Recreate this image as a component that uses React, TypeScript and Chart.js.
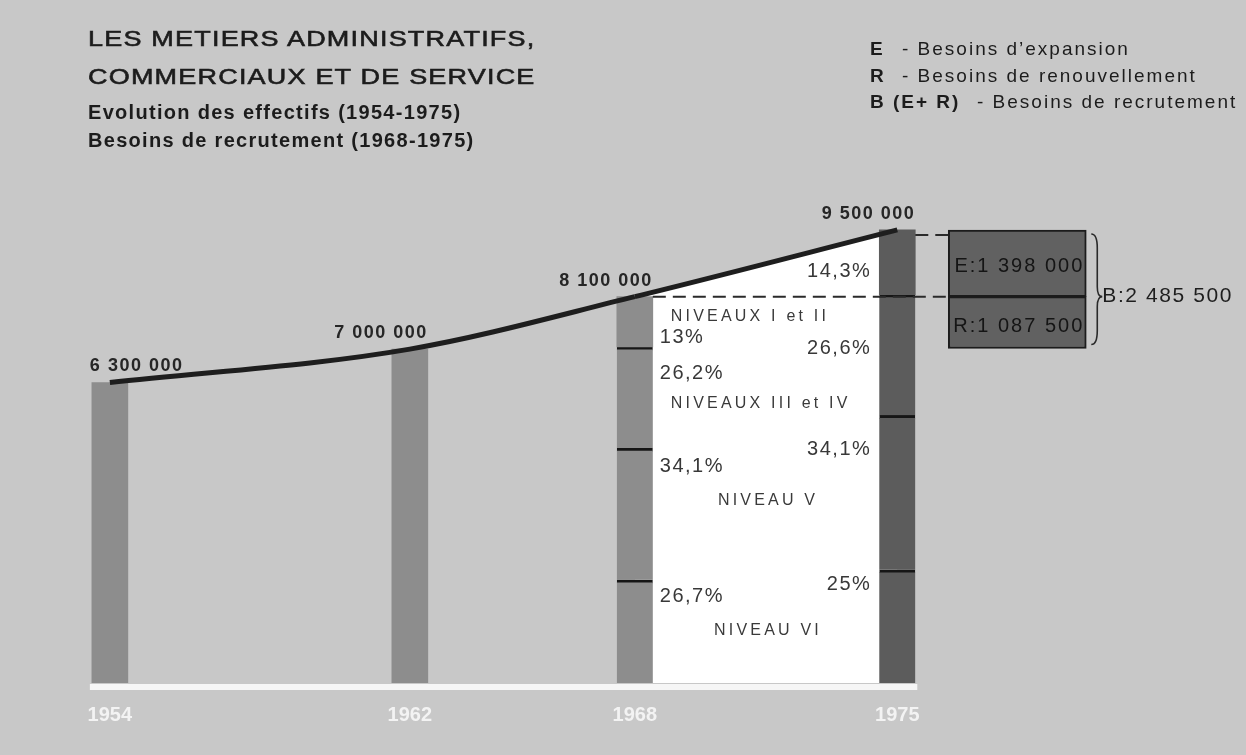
import React, { useEffect, useRef } from 'react';
import { Chart, registerables } from 'chart.js';

Chart.register(...registerables);

// ---- data ----
const YEARS = [1954, 1962, 1968, 1975];
const TOTALS = [6300000, 7000000, 8100000, 9500000];
const LEVELS = ['NIVEAUX I et II', 'NIVEAUX III et IV', 'NIVEAU V', 'NIVEAU VI'];
const SHARES_1968 = [13, 26.2, 34.1, 26.7];
const SHARES_1975 = [14.3, 26.6, 34.1, 25];
const SHARE_LABELS_1968 = ['13%', '26,2%', '34,1%', '26,7%'];
const SHARE_LABELS_1975 = ['14,3%', '26,6%', '34,1%', '25%'];
const NEED_EXPANSION = 1398000;
const NEED_RENEWAL = 1087500;
const NEED_TOTAL = 2485500;

// ---- style ----
const BG = '#c8c8c8';
const BAR_LIGHT = '#8d8d8d';
const BAR_DARK = '#5c5c5c';
const INK = '#1e1e1e';
const FONT = '"Liberation Sans", Arial, Helvetica, sans-serif';
const BOX_X = 1978.2;

const fmt = (v: number) => String(v).replace(/\B(?=(\d{3})+(?!\d))/g, ' ');

function segments(total: number, shares: number[]) {
  const out: number[][] = [];
  let acc = 0;
  for (let i = shares.length - 1; i >= 0; i--) {
    const s = acc;
    acc += (total * shares[i]) / 100;
    out[i] = [s, acc];
  }
  return out;
}

const SEG68 = segments(TOTALS[2], SHARES_1968);
const SEG75 = segments(TOTALS[3], SHARES_1975);

const annotations = {
  id: 'annotations',
  afterDatasetsDraw(chart: any) {
    const ctx = chart.ctx as CanvasRenderingContext2D;
    const xs = chart.scales.x;
    const ys = chart.scales.y;
    const X = (v: number) => xs.getPixelForValue(v);
    const Y = (v: number) => ys.getPixelForValue(v);
    const half = 18;
    ctx.save();

    // baseline
    ctx.fillStyle = '#f6f6f6';
    ctx.fillRect(X(YEARS[0]) - half - 2, Y(0) + 1, X(YEARS[3]) - X(YEARS[0]) + 2 * half + 4, 6);

    // box geometry from library elements
    const rMeta = chart.getDatasetMeta(chart.data.datasets.length - 2).data[0];
    const eMeta = chart.getDatasetMeta(chart.data.datasets.length - 1).data[0];
    const boxLeft = rMeta.x - rMeta.width / 2;
    const boxRight = rMeta.x + rMeta.width / 2;

    // dashed guides
    ctx.strokeStyle = '#2a2a2a';
    ctx.lineWidth = 2;
    ctx.setLineDash([13, 7]);
    ctx.beginPath();
    ctx.moveTo(X(1975) + half, Y(TOTALS[3]) + 5);
    ctx.lineTo(boxLeft, Y(TOTALS[3]) + 5);
    ctx.moveTo(X(1968) + half, Y(TOTALS[2]));
    ctx.lineTo(boxLeft, Y(TOTALS[2]));
    ctx.stroke();
    ctx.setLineDash([]);

    // value labels
    ctx.fillStyle = '#262626';
    ctx.font = `bold 18px ${FONT}`;
    (ctx as any).letterSpacing = '1.5px';
    ctx.textBaseline = 'middle';
    TOTALS.forEach((v, i) => {
      const x = X(YEARS[i]);
      const y = Y(v) - 16;
      if (i === 0) {
        ctx.textAlign = 'left';
        ctx.fillText(fmt(v), x - half - 2, y);
      } else {
        ctx.textAlign = 'right';
        ctx.fillText(fmt(v), x + half, y);
      }
    });

    // percent labels
    ctx.fillStyle = '#383838';
    ctx.font = `20px ${FONT}`;
    (ctx as any).letterSpacing = '1.5px';
    const off68 = [41, 27, 18, 17];
    const off75 = [42, 54, 34, 15];
    ctx.textAlign = 'left';
    SHARE_LABELS_1968.forEach((t, i) => {
      ctx.fillText(t, X(1968) + half + 7, Y(SEG68[i][1]) + off68[i]);
    });
    ctx.textAlign = 'right';
    SHARE_LABELS_1975.forEach((t, i) => {
      ctx.fillText(t, X(1975) - half - 8, Y(SEG75[i][1]) + off75[i]);
    });

    // level labels
    ctx.fillStyle = '#3a3a3a';
    ctx.font = `16px ${FONT}`;
    (ctx as any).letterSpacing = '3.2px';
    const offL = [20, 57, 52, 51];
    LEVELS.forEach((t, i) => {
      const y = Y(SEG68[i][1]) + offL[i];
      if (i < 2) {
        ctx.textAlign = 'left';
        ctx.fillText(t, X(1968) + 36, y);
      } else {
        ctx.textAlign = 'center';
        ctx.fillText(t, (X(1968) + X(1975)) / 2 + 2, y);
      }
    });

    // box texts
    ctx.fillStyle = '#151515';
    ctx.font = `20px ${FONT}`;
    (ctx as any).letterSpacing = '2px';
    ctx.textAlign = 'right';
    ctx.fillText('E:' + fmt(NEED_EXPANSION), boxRight - 2, (eMeta.y + eMeta.base) / 2 + 3);
    ctx.fillText('R:' + fmt(NEED_RENEWAL), boxRight - 2, (rMeta.y + rMeta.base) / 2 + 4);

    // brace
    const top = Math.min(eMeta.y, eMeta.base) + 4;
    const bot = Math.max(rMeta.y, rMeta.base) - 4;
    const mid = Y(TOTALS[2]);
    const bx = boxRight + 5;
    ctx.strokeStyle = '#2a2a2a';
    ctx.lineWidth = 1.6;
    ctx.beginPath();
    ctx.moveTo(bx, top);
    ctx.quadraticCurveTo(bx + 6, top, bx + 6, top + 14);
    ctx.lineTo(bx + 6, mid - 10);
    ctx.quadraticCurveTo(bx + 6, mid, bx + 11, mid);
    ctx.quadraticCurveTo(bx + 6, mid, bx + 6, mid + 10);
    ctx.lineTo(bx + 6, bot - 14);
    ctx.quadraticCurveTo(bx + 6, bot, bx, bot);
    ctx.stroke();

    ctx.fillStyle = '#1e1e1e';
    ctx.font = `21px ${FONT}`;
    (ctx as any).letterSpacing = '1.6px';
    ctx.textAlign = 'left';
    ctx.fillText('B:' + fmt(NEED_TOTAL), bx + 11, mid);

    ctx.restore();
  },
};

export default function App() {
  const ref = useRef<HTMLCanvasElement>(null);

  useEffect(() => {
    const canvas = ref.current!;
    const levelSets = LEVELS.map((name, i) => ({
      type: 'bar' as const,
      label: name,
      data: [
        { x: 1968, y: SEG68[i] },
        { x: 1975, y: SEG75[i] },
      ],
      backgroundColor: [BAR_LIGHT, BAR_DARK],
      borderColor: '#161616',
      borderWidth: i === 0 ? 0 : { top: 3, right: 0, bottom: 0, left: 0 },
      borderSkipped: false,
      barThickness: 36,
      grouped: false,
      order: 2,
    }));

    const chart = new Chart(canvas, {
      type: 'bar',
      data: {
        datasets: [
          {
            type: 'line',
            label: 'Effectifs',
            data: YEARS.map((x, i) => ({ x, y: TOTALS[i] })),
            borderColor: INK,
            borderWidth: 5,
            pointRadius: 0,
            cubicInterpolationMode: 'monotone',
            fill: 'origin',
            backgroundColor: 'rgba(0,0,0,0)',
            segment: {
              backgroundColor: (c: any) => (c.p0DataIndex === 2 ? '#ffffff' : 'rgba(0,0,0,0)'),
            },
            order: 0,
          } as any,
          {
            type: 'bar',
            label: 'Effectifs 1954-1962',
            data: [
              { x: YEARS[0], y: [0, TOTALS[0]] },
              { x: YEARS[1], y: [0, TOTALS[1]] },
            ],
            backgroundColor: BAR_LIGHT,
            barThickness: 36,
            grouped: false,
            order: 2,
          } as any,
          ...(levelSets as any[]),
          {
            type: 'bar',
            label: 'R',
            data: [{ x: BOX_X, y: [TOTALS[2] - NEED_RENEWAL, TOTALS[2]] }],
            backgroundColor: '#616161',
            borderColor: '#1c1c1c',
            borderWidth: 2,
            borderSkipped: false,
            barThickness: 138,
            grouped: false,
            order: 2,
          } as any,
          {
            type: 'bar',
            label: 'E',
            data: [{ x: BOX_X, y: [TOTALS[2], TOTALS[2] + NEED_EXPANSION] }],
            backgroundColor: '#616161',
            borderColor: '#1c1c1c',
            borderWidth: 2,
            borderSkipped: false,
            barThickness: 138,
            grouped: false,
            order: 2,
          } as any,
        ],
      },
      options: {
        responsive: false,
        devicePixelRatio: 1,
        animation: false,
        layout: { padding: 0 },
        scales: {
          x: {
            type: 'linear',
            min: 1951.07,
            max: 1984.3,
            offset: false,
            grid: { display: false, drawTicks: false },
            border: { display: false },
            ticks: {
              color: '#f3f3f3',
              font: { family: FONT, size: 20, weight: 'bold' },
              padding: 20,
              callback: (v: any) => String(v),
              autoSkip: false,
              maxRotation: 0,
            },
            afterBuildTicks: (s: any) => {
              s.ticks = YEARS.map((value) => ({ value }));
            },
            afterFit: (s: any) => {
              s.height = 72;
            },
          },
          y: {
            display: false,
            min: 0,
            max: 14320000,
          },
        },
        plugins: {
          legend: { display: false },
          tooltip: { enabled: false },
          filler: { propagate: false, drawTime: 'beforeDatasetsDraw' },
        },
      } as any,
      plugins: [annotations],
    });
    return () => chart.destroy();
  }, []);

  const title: React.CSSProperties = {
    position: 'absolute',
    left: 88,
    fontFamily: FONT,
    fontSize: 22.5,
    letterSpacing: '1px',
    color: '#1c1c1c',
    whiteSpace: 'pre',
    lineHeight: '24px',
    WebkitTextStroke: '0.6px #1c1c1c',
    transform: 'scaleX(1.2)',
    transformOrigin: 'left center',
  };
  const sub: React.CSSProperties = {
    position: 'absolute',
    left: 88,
    fontFamily: FONT,
    fontSize: 20,
    fontWeight: 'bold',
    letterSpacing: '1.3px',
    color: '#1c1c1c',
    whiteSpace: 'pre',
    lineHeight: '22px',
  };
  const leg: React.CSSProperties = {
    position: 'absolute',
    left: 870,
    fontFamily: FONT,
    fontSize: 19,
    letterSpacing: '2px',
    color: '#1c1c1c',
    whiteSpace: 'pre',
    lineHeight: '22px',
  };
  const key = (w: number): React.CSSProperties => ({
    display: 'inline-block',
    width: w,
    fontWeight: 'bold',
  });

  return (
    <div
      style={{
        position: 'absolute',
        left: 0,
        top: 0,
        width: 1246,
        height: 755,
        background: BG,
        overflow: 'hidden',
      }}
    >
      <canvas ref={ref} width={1246} height={755} style={{ position: 'absolute', left: 0, top: 0 }} />
      <div style={{ ...title, top: 27 }}>LES METIERS ADMINISTRATIFS,</div>
      <div style={{ ...title, top: 65 }}>COMMERCIAUX ET DE SERVICE</div>
      <div style={{ ...sub, top: 101 }}>Evolution des effectifs (1954-1975)</div>
      <div style={{ ...sub, top: 129 }}>Besoins de recrutement (1968-1975)</div>
      <div style={{ ...leg, top: 38 }}>
        <span style={key(32)}>E</span>
        {'- Besoins d’expansion'}
      </div>
      <div style={{ ...leg, top: 65 }}>
        <span style={key(32)}>R</span>
        {'- Besoins de renouvellement'}
      </div>
      <div style={{ ...leg, top: 91 }}>
        <span style={key(107)}>B (E+ R)</span>
        {'- Besoins de recrutement'}
      </div>
    </div>
  );
}
